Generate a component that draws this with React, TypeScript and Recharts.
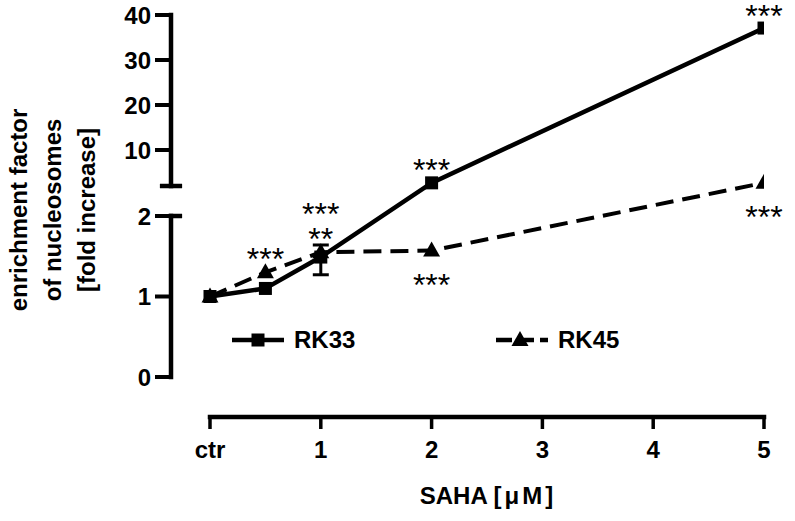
import React from "react"
import {
  ComposedChart,
  Line,
  XAxis,
  YAxis,
  ErrorBar,
  ReferenceLine,
  Legend,
  LabelList,
  Label,
} from "recharts"

// SAHA doses (ctr = 0) and axis ticks
const doses = [0, 0.5, 1, 2, 5]
const xTicks = [0, 1, 2, 3, 4, 5]
const xTickLabels = ["ctr", "1", "2", "3", "4", "5"]
const yTicks = [0, 1, 2, 10, 20, 30, 40]
const yTickLabels = ["0", "1", "2", "10", "20", "30", "40"]

// enrichment factor (fold increase)
const rk33 = [1.0, 1.1, 1.49, 2.7, 37.1]
const rk33Low = [null, null, 1.27, null, null]
const rk33High = [null, null, 1.64, null, null]
const rk45 = [1.0, 1.3, 1.55, 1.57, 2.7]

// significance marks, "|" stacks a second row upwards
const rk33Stars = ["", "", "", "***", "***"]
const rk45StarsAbove = ["", "***", "**|***", "", ""]
const rk45StarsBelow = ["", "", "", "***", "***"]

const yTitleLines = ["enrichment factor", "of nucleosomes", "[fold increase]"]

const FONT = '"Liberation Sans", Arial, Helvetica, sans-serif'
const W = 795
const H = 521

// broken y axis: 0..2 on a tall scale, then a gap, then 2..40 compressed
const LOW_MAX = 2
const LOW_UNIT = 80.5
const BREAK_GAP = 30
const HIGH_UNIT = 4.5
const HIGH_START = LOW_MAX * LOW_UNIT + BREAK_GAP
const toAxis = (v: number) =>
  v <= LOW_MAX ? v * LOW_UNIT : HIGH_START + (v - LOW_MAX) * HIGH_UNIT

const Y_MIN = -40
const Y_MAX = toAxis(40)
const X_MIN = -0.352
const X_MAX = 5
const CAP = 0.08

const data = doses.map((x, i) => {
  const lo = rk33Low[i]
  const hi = rk33High[i]
  return {
    x,
    rk33: toAxis(rk33[i]),
    rk45: toAxis(rk45[i]),
    rk33Err:
      lo == null || hi == null
        ? undefined
        : [toAxis(rk33[i]) - toAxis(lo), toAxis(hi) - toAxis(rk33[i])],
    rk33Stars: rk33Stars[i],
    rk45Above: rk45StarsAbove[i],
    rk45Below: rk45StarsBelow[i],
  }
})

const starLabel = (offset: number, below = false) => (props: any) => {
  const vb = props.viewBox || {}
  const x = vb.x ?? props.x
  const y = vb.y ?? props.y
  const value = String(props.value ?? "")
  if (!value || x == null || y == null) return null
  const rows = value.split("|")
  return (
    <g>
      {rows.map((r, k) => {
        const center = below ? y + offset + k * 25 : y - offset - k * 25
        return (
          <text
            key={k}
            x={x}
            y={center + 18.5}
            textAnchor="middle"
            fontSize={32}
            fontFamily={FONT}
            fill="#000"
          >
            {r}
          </text>
        )
      })}
    </g>
  )
}

const squareDot = (p: any) => (
  <rect key={`sq-${p.index}`} x={p.cx - 6.5} y={p.cy - 6.5} width={13} height={13} fill="#000" />
)

const triangleDot = (p: any) => (
  <polygon
    key={`tr-${p.index}`}
    points={`${p.cx},${p.cy - 9} ${p.cx + 8.5},${p.cy + 6} ${p.cx - 8.5},${p.cy + 6}`}
    fill="#000"
  />
)

const legendItems = [
  { name: "RK33", dash: undefined, left: 232, marker: "square" },
  { name: "RK45", dash: "16 6", left: 496, marker: "triangle" },
]

const renderLegend = () => (
  <div style={{ position: "relative", width: W, height: 30 }}>
    {legendItems.map((s) => (
      <div
        key={s.name}
        style={{ position: "absolute", left: s.left, top: 0, display: "flex", alignItems: "center" }}
      >
        <svg width={52} height={30}>
          <line x1={0} y1={15} x2={52} y2={15} stroke="#000" strokeWidth={4.5} strokeDasharray={s.dash} />
          {s.marker === "square" ? (
            <rect x={19.5} y={8.5} width={13} height={13} fill="#000" />
          ) : (
            <polygon points="24,6 32.5,21 15.5,21" fill="#000" />
          )}
        </svg>
        <span
          style={{ marginLeft: 10, fontSize: 24, fontWeight: "bold", fontFamily: FONT, color: "#000" }}
        >
          {s.name}
        </span>
      </div>
    ))}
  </div>
)

const tickStyle = { fill: "#000", fontSize: 24, fontWeight: "bold", fontFamily: FONT }
const axisStroke = { stroke: "#000", strokeWidth: 4.5, strokeLinecap: "square" as const }

export default function App() {
  return (
    <div style={{ position: "absolute", left: 0, top: 0, width: W, height: H, background: "#fff" }}>
      <ComposedChart
        width={W}
        height={H}
        data={data}
        margin={{ top: 15, right: 31, bottom: 44, left: 0 }}
        style={{ fontFamily: FONT }}
      >
        <XAxis
          dataKey="x"
          type="number"
          domain={[X_MIN, X_MAX]}
          allowDataOverflow
          ticks={xTicks}
          interval={0}
          tickFormatter={(v: number) => xTickLabels[xTicks.indexOf(v)] ?? String(v)}
          axisLine={false}
          tickLine={{ stroke: "#000", strokeWidth: 3.5 }}
          tickSize={12}
          tickMargin={12}
          height={60}
          tick={tickStyle}
        >
          <Label
            content={() => (
              <text x={488} y={504} textAnchor="middle" fontSize={24} fontWeight="bold" fontFamily={FONT} fill="#000">
                SAHA <tspan letterSpacing={3}>[μM]</tspan>
              </text>
            )}
          />
        </XAxis>
        <YAxis
          type="number"
          domain={[Y_MIN, Y_MAX]}
          allowDataOverflow
          ticks={yTicks.map(toAxis)}
          interval={0}
          tickFormatter={(_v: number, i: number) => yTickLabels[i]}
          axisLine={false}
          tickLine={{ stroke: "#000", strokeWidth: 4 }}
          tickSize={16}
          tickMargin={4}
          width={171}
          tick={tickStyle}
        >
          <Label
            content={() => (
              <text
                x={27}
                y={210}
                transform="rotate(-90 27 210)"
                textAnchor="middle"
                fontSize={24}
                fontWeight="bold"
                fontFamily={FONT}
                fill="#000"
              >
                {yTitleLines.map((l, i) => (
                  <tspan key={i} x={27} dy={i === 0 ? 0 : 34}>
                    {l}
                  </tspan>
                ))}
              </text>
            )}
          />
        </YAxis>

        {/* axis lines drawn as segments so the break and offset x axis show */}
        <ReferenceLine segment={[{ x: X_MIN, y: 0 }, { x: X_MIN, y: toAxis(LOW_MAX) }]} {...axisStroke} ifOverflow="visible" />
        <ReferenceLine segment={[{ x: X_MIN, y: toAxis(LOW_MAX) }, { x: X_MIN + CAP, y: toAxis(LOW_MAX) }]} {...axisStroke} ifOverflow="visible" />
        <ReferenceLine segment={[{ x: X_MIN, y: HIGH_START }, { x: X_MIN, y: Y_MAX }]} {...axisStroke} ifOverflow="visible" />
        <ReferenceLine segment={[{ x: X_MIN - CAP, y: HIGH_START }, { x: X_MIN + CAP, y: HIGH_START }]} {...axisStroke} ifOverflow="visible" />
        <ReferenceLine segment={[{ x: 0, y: Y_MIN }, { x: X_MAX, y: Y_MIN }]} {...axisStroke} ifOverflow="visible" />

        <Line
          dataKey="rk45"
          name="RK45"
          stroke="#000"
          strokeWidth={4}
          strokeDasharray="18 9"
          dot={triangleDot}
          activeDot={false}
          isAnimationActive={false}
        >
          <LabelList dataKey="rk45Above" content={starLabel(21)} />
          <LabelList dataKey="rk45Below" content={starLabel(27, true)} />
        </Line>
        <Line
          dataKey="rk33"
          name="RK33"
          stroke="#000"
          strokeWidth={4.5}
          dot={squareDot}
          activeDot={false}
          isAnimationActive={false}
        >
          <ErrorBar dataKey="rk33Err" direction="y" width={8} strokeWidth={3} stroke="#000" />
          <LabelList dataKey="rk33Stars" content={starLabel(20)} />
        </Line>

        <Legend
          verticalAlign="middle"
          align="center"
          content={renderLegend}
          wrapperStyle={{ top: 325, left: 0, width: W }}
        />
      </ComposedChart>
    </div>
  )
}
